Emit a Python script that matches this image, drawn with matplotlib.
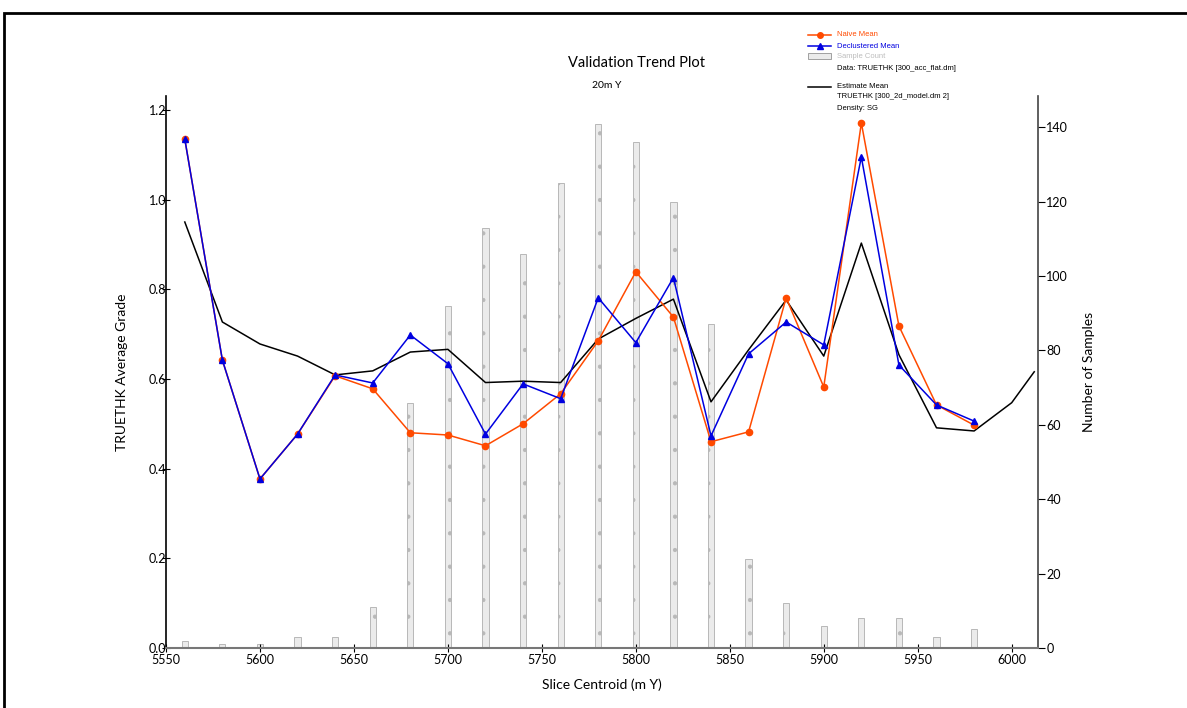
import matplotlib

matplotlib.use("Agg")
import matplotlib.pyplot as plt
from matplotlib.lines import Line2D
from matplotlib.patches import Rectangle

plt.rcParams["font.family"] = ["Lato", "DejaVu Sans"]
plt.rcParams["hatch.color"] = "#9a9a9a"
plt.rcParams["hatch.linewidth"] = 0.6

# slice centroids (m Y)
slices = [5560, 5580, 5600, 5620, 5640, 5660, 5680, 5700, 5720, 5740, 5760,
          5780, 5800, 5820, 5840, 5860, 5880, 5900, 5920, 5940, 5960, 5980]
naive_mean = [1.135, 0.642, 0.377, 0.477, 0.607, 0.578, 0.480, 0.475, 0.451,
              0.500, 0.567, 0.685, 0.839, 0.738, 0.460, 0.482, 0.781, 0.582,
              1.171, 0.718, 0.542, 0.497]
declustered_mean = [1.135, 0.642, 0.377, 0.477, 0.609, 0.591, 0.698, 0.634,
                    0.477, 0.589, 0.556, 0.781, 0.681, 0.826, 0.473, 0.656,
                    0.727, 0.676, 1.095, 0.631, 0.542, 0.506]
sample_count = [2, 1, 1, 3, 3, 11, 66, 92, 113, 106, 125, 141, 136, 120, 87,
                24, 12, 6, 8, 8, 3, 5]

# estimate (block model) slices run a little further
est_slices = slices + [6000, 6012]
estimate_mean = [0.950, 0.727, 0.678, 0.651, 0.609, 0.618, 0.660, 0.666,
                 0.592, 0.595, 0.592, 0.689, 0.735, 0.778, 0.549, 0.665,
                 0.776, 0.651, 0.903, 0.654, 0.491, 0.484, 0.547, 0.616]

ORANGE = "#ff4a00"
BLUE = "#0000e0"

W, H = 1187, 708
fig = plt.figure(figsize=(W / 100, H / 100), dpi=100)

# outer frame (only top / left visible in the crop)
fig.patches.append(Rectangle((4 / W, -0.1), 1.2, 1 - 13 / H + 0.1,
                             transform=fig.transFigure, fill=False,
                             edgecolor="black", linewidth=2))

ax = fig.add_axes([166 / W, 1 - 648 / H, (1038 - 166) / W, (648 - 96) / H])
ax2 = ax.twinx()
ax.set_zorder(ax2.get_zorder() + 1)
ax.patch.set_visible(False)

# sample count bars on the right axis
ax2.bar(slices, sample_count, width=3.3, color="#ebebeb", edgecolor="#b8b8b8",
        linewidth=0.7, hatch=".")
ax2.set_ylim(0, 148.4)
ax2.set_yticks(range(0, 141, 20))
ax2.set_ylabel("Number of Samples", fontsize=10, labelpad=11)

ax.plot(est_slices, estimate_mean, color="black", linewidth=1.1)
ax.plot(slices, naive_mean, color=ORANGE, linewidth=1.1, marker="o",
        markersize=4.5)
ax.plot(slices, declustered_mean, color=BLUE, linewidth=1.1, marker="^",
        markersize=5)

ax.set_xlim(5550, 6014)
ax.set_ylim(0, 1.231)
ax.set_xticks(range(5550, 6001, 50))
ax.set_yticks([0.0, 0.2, 0.4, 0.6, 0.8, 1.0, 1.2])
ax.set_yticklabels(["0.0", "0.2", "0.4", "0.6", "0.8", "1.0", "1.2"])
ax.set_xlabel("Slice Centroid (m Y)", fontsize=10, labelpad=9)
ax.set_ylabel("TRUETHK Average Grade", fontsize=10, labelpad=15)

for a in (ax, ax2):
    a.spines["top"].set_visible(False)
ax.spines["right"].set_visible(False)
ax.spines["bottom"].set_color("#777777")
ax.spines["bottom"].set_linewidth(1.5)
ax.spines["left"].set_linewidth(1.2)
ax2.spines["left"].set_visible(False)
ax2.spines["bottom"].set_visible(False)
ax2.spines["right"].set_color("#444444")
ax2.spines["right"].set_linewidth(1.2)

ax.tick_params(axis="x", direction="inout", length=6, labelsize=9, pad=1)
ax.tick_params(axis="y", direction="inout", length=6, labelsize=9, pad=-3)
ax2.tick_params(axis="y", direction="out", length=5, labelsize=9, pad=1)

fig.text(637 / W, 1 - 63 / H, "Validation Trend Plot", ha="center",
         va="center", fontsize=10.5)
fig.text(607 / W, 1 - 86 / H, "20m Y", ha="center", va="center", fontsize=7.5)


# legend, drawn by hand in figure pixels
def fx(px):
    return px / W


def fy(py):
    return 1 - py / H


lx0, lx1, tx = 808, 831, 837
fig.lines.append(Line2D([fx(lx0), fx(lx1)], [fy(35), fy(35)], color=ORANGE,
                        linewidth=1.1, transform=fig.transFigure))
fig.lines.append(Line2D([fx((lx0 + lx1) / 2)], [fy(35)], color=ORANGE,
                        marker="o", markersize=4, transform=fig.transFigure))
fig.lines.append(Line2D([fx(lx0), fx(lx1)], [fy(46), fy(46)], color=BLUE,
                        linewidth=1.1, transform=fig.transFigure))
fig.lines.append(Line2D([fx((lx0 + lx1) / 2)], [fy(45.5)], color=BLUE,
                        marker="^", markersize=4.5, transform=fig.transFigure))
fig.patches.append(Rectangle((fx(lx0), fy(59)), fx(lx1) - fx(lx0),
                             fy(53) - fy(59), transform=fig.transFigure,
                             facecolor="#ebebeb", edgecolor="#a0a0a0",
                             linewidth=0.7))
fig.lines.append(Line2D([fx(lx0), fx(lx1)], [fy(87), fy(87)], color="black",
                        linewidth=1.1, transform=fig.transFigure))

legend_items = [
    (35, "Naive Mean", ORANGE),
    (46, "Declustered Mean", BLUE),
    (56, "Sample Count", "#bdbdbd"),
    (68, "Data: TRUETHK [300_acc_flat.dm]", "black"),
    (87, "Estimate Mean", "black"),
    (97, "TRUETHK [300_2d_model.dm 2]", "black"),
    (108, "Density: SG", "black"),
]
for py, label, col in legend_items:
    fig.text(fx(tx), fy(py), label, ha="left", va="center", fontsize=5.5,
             color=col, family=["Liberation Sans", "DejaVu Sans"])

fig.savefig("out.png", dpi=100)
